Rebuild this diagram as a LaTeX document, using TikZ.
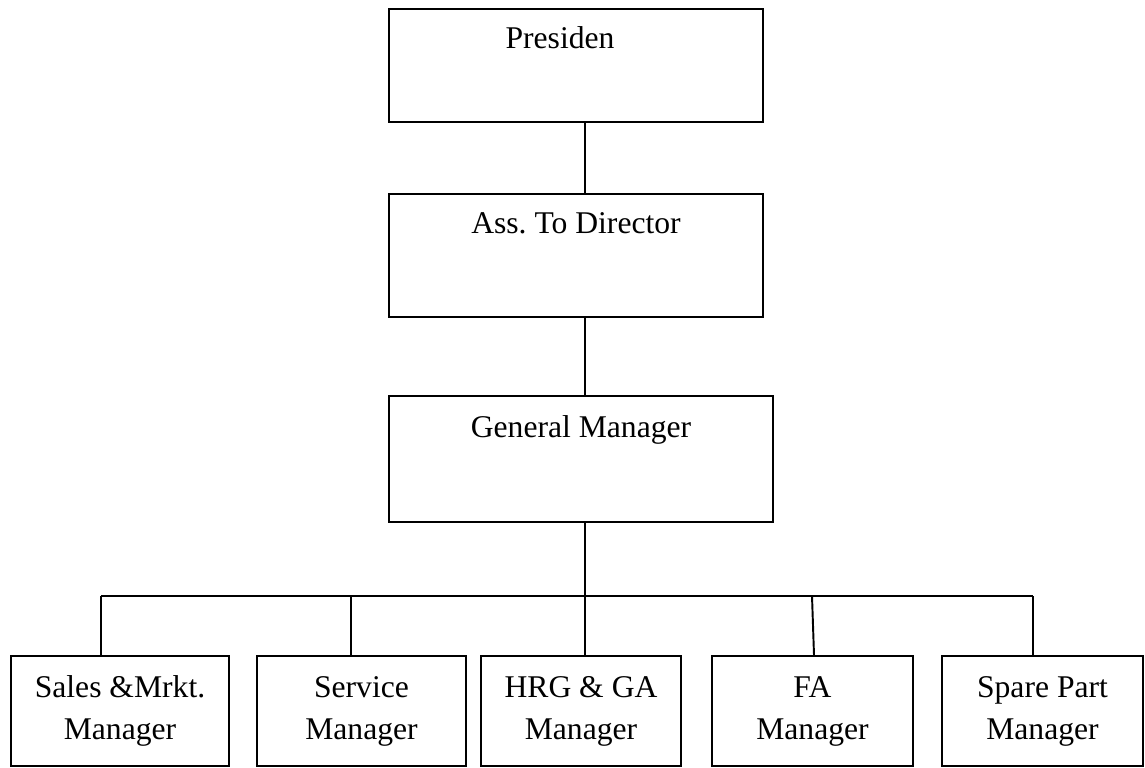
\documentclass[tikz,border=0pt]{standalone}
\usepackage{fontspec}
\setmainfont{Liberation Serif}
\frenchspacing
\tikzset{
  unit/.style={draw, line width=1.1pt, inner sep=0pt},
  headbox/.style={unit, minimum width=7.48cm},
  staffbox/.style={unit, minimum height=2.2cm, align=center},
  caption/.style={anchor=base, inner sep=0pt},
  link/.style={line width=1.1pt}
}
\begin{document}
\begin{tikzpicture}[x=0.02cm, y=-0.02cm, font=\fontsize{18}{23.9}\selectfont]

    \useasboundingbox (0,0) rectangle (1145,767);

    % top of the chart
    \node (pres) [headbox, minimum height=2.26cm] at (576,65.5) {};
    \node (pres-t) [caption] at (560,49) {Presiden};

    \node (ass) [headbox, minimum height=2.46cm] at (576,255.5) {};
    \node (ass-t) [caption] at (576,233) {Ass. To Director};

    \node (gm) [unit, minimum width=7.68cm, minimum height=2.52cm] at (581,459) {};
    \node (gm-t) [caption] at (581,437) {General Manager};

    \coordinate (spine) at (585,0);
    \draw [link] (pres.south -| spine) -- (ass.north -| spine);
    \draw [link] (ass.south -| spine) -- (gm.north -| spine);
    \draw [link] (gm.south -| spine) -- (585,596) coordinate (bus);

    % managers
    \node (sales) [staffbox, minimum width=4.36cm] at (120,711) {Sales \&Mrkt.\\Manager};
    \node (serv) [staffbox, minimum width=4.18cm] at (361.5,711) {Service\\Manager};
    \node (hrg) [staffbox, minimum width=4cm] at (581,711) {HRG \& GA\\Manager};
    \node (fa) [staffbox, minimum width=4.02cm] at (812.5,711) {FA\\Manager};
    \node (spare) [staffbox, minimum width=4.02cm] at (1042.5,711) {Spare Part\\Manager};

    \coordinate (d1) at (101,596);
    \coordinate (d2) at (351,596);
    \coordinate (d4) at (812,596);
    \coordinate (d5) at (1033,596);

    \draw [link] (d1) -- (d5);
    \draw [link] (d1) -- (d1 |- sales.north);
    \draw [link] (d2) -- (d2 |- serv.north);
    \draw [link] (bus) -- (bus |- hrg.north);
    \draw [link] (d4) -- (814,0 |- fa.north);
    \draw [link] (d5) -- (d5 |- spare.north);

\end{tikzpicture}
\end{document}
